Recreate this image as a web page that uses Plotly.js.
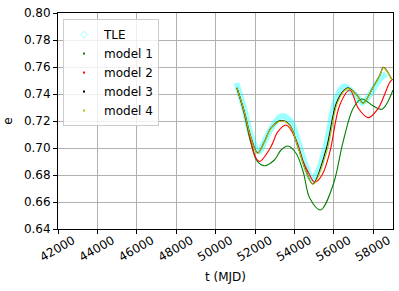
<!DOCTYPE html>
<html><head><meta charset="utf-8">
<script src="https://cdn.plot.ly/plotly-3.0.1.min.js"></script>
<style>html,body{margin:0;padding:0;background:#fff}#chart{width:399px;height:291px}</style>
</head><body><div id="chart"></div>
<script>
const tleT = [51050, 51450, 51800, 52200, 52500, 52900, 53350, 53800, 54200, 54600, 54880, 55200, 55600, 56100, 56500, 56900, 57200, 57450, 57800, 58100, 58400, 58650];
const tleE = [0.748, 0.729, 0.709, 0.6975, 0.7055, 0.7165, 0.7235, 0.720, 0.704, 0.686, 0.677, 0.683, 0.702, 0.736, 0.7455, 0.742, 0.7375, 0.7335, 0.739, 0.746, 0.752, 0.755];

const m1T = [51080, 51450, 51800, 52100, 52480, 52980, 53320, 53660, 54080, 54440, 54780, 55320, 55960, 56470, 56980, 57410, 57920, 58430, 59000];
const m1E = [0.7445, 0.7255, 0.703, 0.6905, 0.6869, 0.6911, 0.6985, 0.7015, 0.6961, 0.6825, 0.6627, 0.6541, 0.6726, 0.7047, 0.7294, 0.7363, 0.7319, 0.7287, 0.743];

const m2T = [51080, 51460, 51790, 52050, 52230, 52810, 53150, 53580, 54080, 54420, 54680, 55030, 55400, 55800, 56300, 56810, 57240, 57740, 58250, 58850, 59000];
const m2E = [0.7445, 0.7257, 0.7047, 0.6924, 0.690, 0.701, 0.712, 0.717, 0.706, 0.691, 0.6825, 0.6746, 0.680, 0.6973, 0.7319, 0.743, 0.7294, 0.7225, 0.7294, 0.749, 0.751];

const m3T = [51080, 51450, 51800, 52130, 52480, 52810, 53320, 53750, 54170, 54590, 54930, 55600, 56120, 56500, 56720, 57150, 57490, 57920, 58340, 58510, 58720, 58950];
const m3E = [0.7445, 0.7272, 0.7075, 0.6963, 0.7048, 0.7148, 0.7203, 0.7172, 0.7012, 0.6828, 0.6733, 0.6985, 0.7330, 0.7425, 0.7445, 0.7395, 0.7333, 0.7432, 0.7543, 0.7597, 0.7565, 0.7503];

const m4T = [51080, 51450, 51800, 52130, 52480, 52810, 53320, 53750, 54170, 54590, 54950, 55630, 56140, 56500, 56730, 57150, 57490, 57920, 58340, 58510, 58720, 58950];
const m4E = [0.7445, 0.727, 0.707, 0.6961, 0.7047, 0.7146, 0.7200, 0.7170, 0.701, 0.6825, 0.6731, 0.6973, 0.7319, 0.742, 0.7442, 0.7393, 0.7331, 0.743, 0.754, 0.7595, 0.7562, 0.7504];

const xTicks = [42000, 44000, 46000, 48000, 50000, 52000, 54000, 56000, 58000];
const yTicks = [0.64, 0.66, 0.68, 0.70, 0.72, 0.74, 0.76, 0.78, 0.80];
const names = ['TLE', 'model 1', 'model 2', 'model 3', 'model 4'];
const colors = ['rgba(0,255,255,0.4)', '#008000', '#ff0000', '#000000', '#bfbf00'];

const series = [[tleT, tleE], [m1T, m1E], [m2T, m2E], [m3T, m3E], [m4T, m4E]];
const traces = [];
series.forEach((s, i) => {
  traces.push({
    x: s[0], y: s[1], type: 'scatter', mode: 'lines', showlegend: false,
    line: {color: colors[i], width: i === 0 ? 6 : 1.1, shape: 'spline', smoothing: 1}
  });
});
names.forEach((n, i) => {
  traces.push({
    x: [null], y: [null], type: 'scatter', mode: 'markers', name: n,
    marker: i === 0 ? {symbol: 'diamond-open', size: 5, color: 'rgba(0,255,255,0.4)', line: {width: 1}}
                    : {symbol: 'square', size: 2, color: colors[i]}
  });
});

const axisCommon = {
  showline: true, mirror: true, linecolor: '#000', linewidth: 1,
  ticks: 'outside', ticklen: 4, tickcolor: '#000', tickwidth: 1,
  showgrid: true, gridcolor: '#b0b0b0', gridwidth: 1, zeroline: false,
  tickfont: {family: 'DejaVu Sans', size: 12, color: '#000'}
};

const layout = {
  width: 399, height: 291,
  margin: {l: 58, r: 6, t: 13, b: 62},
  paper_bgcolor: '#fff', plot_bgcolor: '#fff',
  font: {family: 'DejaVu Sans', size: 12, color: '#000'},
  xaxis: Object.assign({}, axisCommon, {
    range: [42000, 59000], tickvals: xTicks, ticktext: xTicks.map(String), tickangle: -30,
    ticklabelshift: 15, ticklabelstandoff: -5
  }),
  yaxis: Object.assign({}, axisCommon, {
    range: [0.64, 0.80], tickvals: yTicks, ticktext: yTicks.map(v => v.toFixed(2)),
    title: {text: 'e', font: {family: 'DejaVu Sans', size: 12}, standoff: 8}
  }),
  annotations: [{
    text: 't (MJD)', xref: 'paper', yref: 'paper', x: 0.5, y: -(277 - 229) / 216,
    xanchor: 'center', yanchor: 'middle', showarrow: false,
    font: {family: 'DejaVu Sans', size: 12, color: '#000'}
  }],
  legend: {
    x: 0.015, y: 0.972, xanchor: 'left', yanchor: 'top',
    bgcolor: 'rgba(255,255,255,0.8)', bordercolor: '#cccccc', borderwidth: 1,
    font: {family: 'DejaVu Sans', size: 12, color: '#000'}, tracegroupgap: 0
  },
  showlegend: true
};

Plotly.newPlot('chart', traces, layout, {displayModeBar: false, staticPlot: true});
</script></body></html>
